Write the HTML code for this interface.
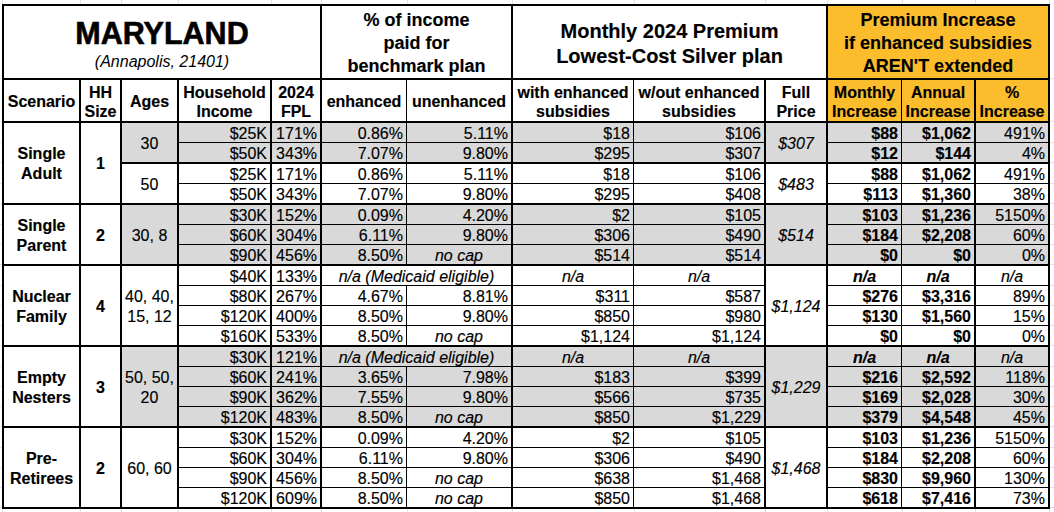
<!DOCTYPE html>
<html><head><meta charset="utf-8"><style>
html,body{margin:0;padding:0;}
body{width:1054px;height:512px;position:relative;overflow:hidden;background:#fff;font-family:"Liberation Sans",sans-serif;font-size:16px;color:#000;-webkit-text-stroke:0.15px #000;}
.l,.g{position:absolute;}

.g{background:#e3e3e3}
</style></head><body>
<div class="g" style="left:2px;top:0;width:1px;height:4px"></div>
<div class="g" style="left:2px;top:509px;width:1px;height:3px"></div>
<div class="g" style="left:80px;top:0;width:1px;height:4px"></div>
<div class="g" style="left:80px;top:509px;width:1px;height:3px"></div>
<div class="g" style="left:121px;top:0;width:1px;height:4px"></div>
<div class="g" style="left:121px;top:509px;width:1px;height:3px"></div>
<div class="g" style="left:178px;top:0;width:1px;height:4px"></div>
<div class="g" style="left:178px;top:509px;width:1px;height:3px"></div>
<div class="g" style="left:271px;top:0;width:1px;height:4px"></div>
<div class="g" style="left:271px;top:509px;width:1px;height:3px"></div>
<div class="g" style="left:321px;top:0;width:1px;height:4px"></div>
<div class="g" style="left:321px;top:509px;width:1px;height:3px"></div>
<div class="g" style="left:407px;top:0;width:1px;height:4px"></div>
<div class="g" style="left:407px;top:509px;width:1px;height:3px"></div>
<div class="g" style="left:512px;top:0;width:1px;height:4px"></div>
<div class="g" style="left:512px;top:509px;width:1px;height:3px"></div>
<div class="g" style="left:634px;top:0;width:1px;height:4px"></div>
<div class="g" style="left:634px;top:509px;width:1px;height:3px"></div>
<div class="g" style="left:765px;top:0;width:1px;height:4px"></div>
<div class="g" style="left:765px;top:509px;width:1px;height:3px"></div>
<div class="g" style="left:827px;top:0;width:1px;height:4px"></div>
<div class="g" style="left:827px;top:509px;width:1px;height:3px"></div>
<div class="g" style="left:902px;top:0;width:1px;height:4px"></div>
<div class="g" style="left:902px;top:509px;width:1px;height:3px"></div>
<div class="g" style="left:975px;top:0;width:1px;height:4px"></div>
<div class="g" style="left:975px;top:509px;width:1px;height:3px"></div>
<div class="g" style="left:1049px;top:0;width:1px;height:4px"></div>
<div class="g" style="left:1049px;top:509px;width:1px;height:3px"></div>
<div class="g" style="left:0;top:78px;width:2px;height:1px"></div>
<div class="g" style="left:1050px;top:78px;width:4px;height:1px"></div>
<div class="g" style="left:0;top:121px;width:2px;height:1px"></div>
<div class="g" style="left:1050px;top:121px;width:4px;height:1px"></div>
<div class="g" style="left:0;top:142px;width:2px;height:1px"></div>
<div class="g" style="left:1050px;top:142px;width:4px;height:1px"></div>
<div class="g" style="left:0;top:162px;width:2px;height:1px"></div>
<div class="g" style="left:1050px;top:162px;width:4px;height:1px"></div>
<div class="g" style="left:0;top:183px;width:2px;height:1px"></div>
<div class="g" style="left:1050px;top:183px;width:4px;height:1px"></div>
<div class="g" style="left:0;top:203px;width:2px;height:1px"></div>
<div class="g" style="left:1050px;top:203px;width:4px;height:1px"></div>
<div class="g" style="left:0;top:224px;width:2px;height:1px"></div>
<div class="g" style="left:1050px;top:224px;width:4px;height:1px"></div>
<div class="g" style="left:0;top:244px;width:2px;height:1px"></div>
<div class="g" style="left:1050px;top:244px;width:4px;height:1px"></div>
<div class="g" style="left:0;top:264px;width:2px;height:1px"></div>
<div class="g" style="left:1050px;top:264px;width:4px;height:1px"></div>
<div class="g" style="left:0;top:285px;width:2px;height:1px"></div>
<div class="g" style="left:1050px;top:285px;width:4px;height:1px"></div>
<div class="g" style="left:0;top:305px;width:2px;height:1px"></div>
<div class="g" style="left:1050px;top:305px;width:4px;height:1px"></div>
<div class="g" style="left:0;top:325px;width:2px;height:1px"></div>
<div class="g" style="left:1050px;top:325px;width:4px;height:1px"></div>
<div class="g" style="left:0;top:345px;width:2px;height:1px"></div>
<div class="g" style="left:1050px;top:345px;width:4px;height:1px"></div>
<div class="g" style="left:0;top:366px;width:2px;height:1px"></div>
<div class="g" style="left:1050px;top:366px;width:4px;height:1px"></div>
<div class="g" style="left:0;top:386px;width:2px;height:1px"></div>
<div class="g" style="left:1050px;top:386px;width:4px;height:1px"></div>
<div class="g" style="left:0;top:406px;width:2px;height:1px"></div>
<div class="g" style="left:1050px;top:406px;width:4px;height:1px"></div>
<div class="g" style="left:0;top:426px;width:2px;height:1px"></div>
<div class="g" style="left:1050px;top:426px;width:4px;height:1px"></div>
<div class="g" style="left:0;top:447px;width:2px;height:1px"></div>
<div class="g" style="left:1050px;top:447px;width:4px;height:1px"></div>
<div class="g" style="left:0;top:467px;width:2px;height:1px"></div>
<div class="g" style="left:1050px;top:467px;width:4px;height:1px"></div>
<div class="g" style="left:0;top:487px;width:2px;height:1px"></div>
<div class="g" style="left:1050px;top:487px;width:4px;height:1px"></div>
<div class="g" style="left:0;top:507px;width:2px;height:1px"></div>
<div class="g" style="left:1050px;top:507px;width:4px;height:1px"></div>
<div style="position:absolute;left:828px;top:6px;width:220px;height:115px;background:#fbbd2b"></div>
<div style="position:absolute;left:122px;top:121px;width:926px;height:41px;background:#d9d9d9"></div>
<div style="position:absolute;left:122px;top:203px;width:926px;height:61px;background:#d9d9d9"></div>
<div style="position:absolute;left:122px;top:345px;width:926px;height:81px;background:#d9d9d9"></div>
<div class="l" style="left:2px;top:4px;width:1048px;height:2px;background:#000"></div>
<div class="l" style="left:2px;top:78px;width:1048px;height:2px;background:#000"></div>
<div class="l" style="left:2px;top:121px;width:1048px;height:2px;background:#000"></div>
<div class="l" style="left:2px;top:507px;width:1048px;height:2px;background:#000"></div>
<div class="l" style="left:2px;top:203px;width:1048px;height:2px;background:#000"></div>
<div class="l" style="left:2px;top:264px;width:1048px;height:2px;background:#000"></div>
<div class="l" style="left:2px;top:345px;width:1048px;height:2px;background:#000"></div>
<div class="l" style="left:2px;top:426px;width:1048px;height:2px;background:#000"></div>
<div class="l" style="left:120px;top:162px;width:930px;height:2px;background:#000"></div>
<div class="l" style="left:177px;top:142px;width:871px;height:1px;background:#000"></div>
<div class="l" style="left:177px;top:183px;width:871px;height:1px;background:#000"></div>
<div class="l" style="left:177px;top:224px;width:871px;height:1px;background:#000"></div>
<div class="l" style="left:177px;top:244px;width:871px;height:1px;background:#000"></div>
<div class="l" style="left:177px;top:285px;width:871px;height:1px;background:#000"></div>
<div class="l" style="left:177px;top:305px;width:871px;height:1px;background:#000"></div>
<div class="l" style="left:177px;top:325px;width:871px;height:1px;background:#000"></div>
<div class="l" style="left:177px;top:366px;width:871px;height:1px;background:#000"></div>
<div class="l" style="left:177px;top:386px;width:871px;height:1px;background:#000"></div>
<div class="l" style="left:177px;top:406px;width:871px;height:1px;background:#000"></div>
<div class="l" style="left:177px;top:447px;width:871px;height:1px;background:#000"></div>
<div class="l" style="left:177px;top:467px;width:871px;height:1px;background:#000"></div>
<div class="l" style="left:177px;top:487px;width:871px;height:1px;background:#000"></div>
<div class="l" style="left:2px;top:4px;width:2px;height:505px;background:#000"></div>
<div class="l" style="left:320px;top:4px;width:2px;height:505px;background:#000"></div>
<div class="l" style="left:511px;top:4px;width:2px;height:505px;background:#000"></div>
<div class="l" style="left:826px;top:4px;width:2px;height:505px;background:#000"></div>
<div class="l" style="left:1048px;top:4px;width:2px;height:505px;background:#000"></div>
<div class="l" style="left:79px;top:78px;width:2px;height:431px;background:#000"></div>
<div class="l" style="left:120px;top:78px;width:2px;height:431px;background:#000"></div>
<div class="l" style="left:177px;top:78px;width:2px;height:431px;background:#000"></div>
<div class="l" style="left:270px;top:78px;width:2px;height:431px;background:#000"></div>
<div class="l" style="left:406px;top:78px;width:1px;height:431px;background:#000"></div>
<div class="l" style="left:633px;top:78px;width:1px;height:431px;background:#000"></div>
<div class="l" style="left:764px;top:78px;width:2px;height:431px;background:#000"></div>
<div class="l" style="left:901px;top:78px;width:1px;height:431px;background:#000"></div>
<div class="l" style="left:974px;top:78px;width:2px;height:431px;background:#000"></div>
<div style="position:absolute;left:766px;top:123px;width:60px;height:39px;background:#d9d9d9"></div>
<div style="position:absolute;left:766px;top:164px;width:60px;height:39px;background:#fff"></div>
<div style="position:absolute;left:766px;top:205px;width:60px;height:59px;background:#d9d9d9"></div>
<div style="position:absolute;left:766px;top:266px;width:60px;height:79px;background:#fff"></div>
<div style="position:absolute;left:766px;top:347px;width:60px;height:79px;background:#d9d9d9"></div>
<div style="position:absolute;left:766px;top:428px;width:60px;height:79px;background:#fff"></div>
<div style="position:absolute;left:406px;top:266px;width:1px;height:19px;background:#fff"></div>
<div style="position:absolute;left:406px;top:347px;width:1px;height:19px;background:#d9d9d9"></div>
<div style="position:absolute;left:4px;top:-3.0px;width:316px;height:72px;display:flex;align-items:center;justify-content:center;text-align:center;font-size:30.5px;font-weight:bold;line-height:32px;white-space:nowrap;"><span style="display:inline-block;transform:scaleY(1.03);-webkit-text-stroke:0.6px #000">MARYLAND</span></div>
<div style="position:absolute;left:4px;top:26.0px;width:316px;height:72px;display:flex;align-items:center;justify-content:center;text-align:center;font-style:italic;line-height:20px;white-space:nowrap;-webkit-text-stroke:0;">(Annapolis, 21401)</div>
<div style="position:absolute;left:322px;top:7.0px;width:189px;height:72px;display:flex;align-items:center;justify-content:center;text-align:center;font-size:18px;font-weight:bold;line-height:23px;white-space:nowrap;">% of income<br>paid for<br>benchmark plan</div>
<div style="position:absolute;left:513px;top:7.5px;width:313px;height:72px;display:flex;align-items:center;justify-content:center;text-align:center;font-size:20px;font-weight:bold;line-height:25px;white-space:nowrap;">Monthly 2024 Premium<br>Lowest-Cost Silver plan</div>
<div style="position:absolute;left:828px;top:7.0px;width:220px;height:72px;display:flex;align-items:center;justify-content:center;text-align:center;font-size:18px;font-weight:bold;line-height:23px;white-space:nowrap;">Premium Increase<br>if enhanced subsidies<br>AREN'T extended</div>
<div style="position:absolute;left:4px;top:81.0px;width:75px;height:41px;display:flex;align-items:center;justify-content:center;text-align:center;font-weight:bold;line-height:19px;white-space:nowrap;">Scenario</div>
<div style="position:absolute;left:81px;top:81.0px;width:39px;height:41px;display:flex;align-items:center;justify-content:center;text-align:center;font-weight:bold;line-height:19px;white-space:nowrap;">HH<br>Size</div>
<div style="position:absolute;left:122px;top:81.0px;width:55px;height:41px;display:flex;align-items:center;justify-content:center;text-align:center;font-weight:bold;line-height:19px;white-space:nowrap;">Ages</div>
<div style="position:absolute;left:179px;top:81.0px;width:91px;height:41px;display:flex;align-items:center;justify-content:center;text-align:center;font-weight:bold;line-height:19px;white-space:nowrap;">Household<br>Income</div>
<div style="position:absolute;left:272px;top:81.0px;width:48px;height:41px;display:flex;align-items:center;justify-content:center;text-align:center;font-weight:bold;line-height:19px;white-space:nowrap;">2024<br>FPL</div>
<div style="position:absolute;left:322px;top:81.0px;width:84px;height:41px;display:flex;align-items:center;justify-content:center;text-align:center;font-weight:bold;line-height:19px;white-space:nowrap;">enhanced</div>
<div style="position:absolute;left:407px;top:81.0px;width:104px;height:41px;display:flex;align-items:center;justify-content:center;text-align:center;font-weight:bold;line-height:19px;white-space:nowrap;">unenhanced</div>
<div style="position:absolute;left:513px;top:81.0px;width:120px;height:41px;display:flex;align-items:center;justify-content:center;text-align:center;font-weight:bold;line-height:19px;white-space:nowrap;">with enhanced<br>subsidies</div>
<div style="position:absolute;left:634px;top:81.0px;width:130px;height:41px;display:flex;align-items:center;justify-content:center;text-align:center;font-weight:bold;line-height:19px;white-space:nowrap;">w/out enhanced<br>subsidies</div>
<div style="position:absolute;left:766px;top:81.0px;width:60px;height:41px;display:flex;align-items:center;justify-content:center;text-align:center;font-weight:bold;line-height:19px;white-space:nowrap;">Full<br>Price</div>
<div style="position:absolute;left:828px;top:81.0px;width:73px;height:41px;display:flex;align-items:center;justify-content:center;text-align:center;font-weight:bold;line-height:19px;white-space:nowrap;">Monthly<br>Increase</div>
<div style="position:absolute;left:902px;top:81.0px;width:72px;height:41px;display:flex;align-items:center;justify-content:center;text-align:center;font-weight:bold;line-height:19px;white-space:nowrap;">Annual<br>Increase</div>
<div style="position:absolute;left:976px;top:81.0px;width:72px;height:41px;display:flex;align-items:center;justify-content:center;text-align:center;font-weight:bold;line-height:19px;white-space:nowrap;">%<br>Increase</div>
<div style="position:absolute;left:179px;top:124.0px;width:88px;height:19px;display:flex;align-items:center;justify-content:flex-end;text-align:right;padding-right:3px;line-height:20px;white-space:nowrap;">$25K</div>
<div style="position:absolute;left:272px;top:124.0px;width:45px;height:19px;display:flex;align-items:center;justify-content:flex-end;text-align:right;padding-right:3px;line-height:20px;white-space:nowrap;">171%</div>
<div style="position:absolute;left:322px;top:124.0px;width:81px;height:19px;display:flex;align-items:center;justify-content:flex-end;text-align:right;padding-right:3px;line-height:20px;white-space:nowrap;">0.86%</div>
<div style="position:absolute;left:407px;top:124.0px;width:101px;height:19px;display:flex;align-items:center;justify-content:flex-end;text-align:right;padding-right:3px;line-height:20px;white-space:nowrap;">5.11%</div>
<div style="position:absolute;left:513px;top:124.0px;width:117px;height:19px;display:flex;align-items:center;justify-content:flex-end;text-align:right;padding-right:3px;line-height:20px;white-space:nowrap;">$18</div>
<div style="position:absolute;left:634px;top:124.0px;width:127px;height:19px;display:flex;align-items:center;justify-content:flex-end;text-align:right;padding-right:3px;line-height:20px;white-space:nowrap;">$106</div>
<div style="position:absolute;left:828px;top:124.0px;width:70px;height:19px;display:flex;align-items:center;justify-content:flex-end;text-align:right;padding-right:3px;font-weight:bold;line-height:20px;white-space:nowrap;">$88</div>
<div style="position:absolute;left:902px;top:124.0px;width:69px;height:19px;display:flex;align-items:center;justify-content:flex-end;text-align:right;padding-right:3px;font-weight:bold;line-height:20px;white-space:nowrap;">$1,062</div>
<div style="position:absolute;left:976px;top:124.0px;width:69px;height:19px;display:flex;align-items:center;justify-content:flex-end;text-align:right;padding-right:3px;line-height:20px;white-space:nowrap;">491%</div>
<div style="position:absolute;left:179px;top:144.0px;width:88px;height:19px;display:flex;align-items:center;justify-content:flex-end;text-align:right;padding-right:3px;line-height:20px;white-space:nowrap;">$50K</div>
<div style="position:absolute;left:272px;top:144.0px;width:45px;height:19px;display:flex;align-items:center;justify-content:flex-end;text-align:right;padding-right:3px;line-height:20px;white-space:nowrap;">343%</div>
<div style="position:absolute;left:322px;top:144.0px;width:81px;height:19px;display:flex;align-items:center;justify-content:flex-end;text-align:right;padding-right:3px;line-height:20px;white-space:nowrap;">7.07%</div>
<div style="position:absolute;left:407px;top:144.0px;width:101px;height:19px;display:flex;align-items:center;justify-content:flex-end;text-align:right;padding-right:3px;line-height:20px;white-space:nowrap;">9.80%</div>
<div style="position:absolute;left:513px;top:144.0px;width:117px;height:19px;display:flex;align-items:center;justify-content:flex-end;text-align:right;padding-right:3px;line-height:20px;white-space:nowrap;">$295</div>
<div style="position:absolute;left:634px;top:144.0px;width:127px;height:19px;display:flex;align-items:center;justify-content:flex-end;text-align:right;padding-right:3px;line-height:20px;white-space:nowrap;">$307</div>
<div style="position:absolute;left:828px;top:144.0px;width:70px;height:19px;display:flex;align-items:center;justify-content:flex-end;text-align:right;padding-right:3px;font-weight:bold;line-height:20px;white-space:nowrap;">$12</div>
<div style="position:absolute;left:902px;top:144.0px;width:69px;height:19px;display:flex;align-items:center;justify-content:flex-end;text-align:right;padding-right:3px;font-weight:bold;line-height:20px;white-space:nowrap;">$144</div>
<div style="position:absolute;left:976px;top:144.0px;width:69px;height:19px;display:flex;align-items:center;justify-content:flex-end;text-align:right;padding-right:3px;line-height:20px;white-space:nowrap;">4%</div>
<div style="position:absolute;left:179px;top:165.0px;width:88px;height:19px;display:flex;align-items:center;justify-content:flex-end;text-align:right;padding-right:3px;line-height:20px;white-space:nowrap;">$25K</div>
<div style="position:absolute;left:272px;top:165.0px;width:45px;height:19px;display:flex;align-items:center;justify-content:flex-end;text-align:right;padding-right:3px;line-height:20px;white-space:nowrap;">171%</div>
<div style="position:absolute;left:322px;top:165.0px;width:81px;height:19px;display:flex;align-items:center;justify-content:flex-end;text-align:right;padding-right:3px;line-height:20px;white-space:nowrap;">0.86%</div>
<div style="position:absolute;left:407px;top:165.0px;width:101px;height:19px;display:flex;align-items:center;justify-content:flex-end;text-align:right;padding-right:3px;line-height:20px;white-space:nowrap;">5.11%</div>
<div style="position:absolute;left:513px;top:165.0px;width:117px;height:19px;display:flex;align-items:center;justify-content:flex-end;text-align:right;padding-right:3px;line-height:20px;white-space:nowrap;">$18</div>
<div style="position:absolute;left:634px;top:165.0px;width:127px;height:19px;display:flex;align-items:center;justify-content:flex-end;text-align:right;padding-right:3px;line-height:20px;white-space:nowrap;">$106</div>
<div style="position:absolute;left:828px;top:165.0px;width:70px;height:19px;display:flex;align-items:center;justify-content:flex-end;text-align:right;padding-right:3px;font-weight:bold;line-height:20px;white-space:nowrap;">$88</div>
<div style="position:absolute;left:902px;top:165.0px;width:69px;height:19px;display:flex;align-items:center;justify-content:flex-end;text-align:right;padding-right:3px;font-weight:bold;line-height:20px;white-space:nowrap;">$1,062</div>
<div style="position:absolute;left:976px;top:165.0px;width:69px;height:19px;display:flex;align-items:center;justify-content:flex-end;text-align:right;padding-right:3px;line-height:20px;white-space:nowrap;">491%</div>
<div style="position:absolute;left:179px;top:185.0px;width:88px;height:19px;display:flex;align-items:center;justify-content:flex-end;text-align:right;padding-right:3px;line-height:20px;white-space:nowrap;">$50K</div>
<div style="position:absolute;left:272px;top:185.0px;width:45px;height:19px;display:flex;align-items:center;justify-content:flex-end;text-align:right;padding-right:3px;line-height:20px;white-space:nowrap;">343%</div>
<div style="position:absolute;left:322px;top:185.0px;width:81px;height:19px;display:flex;align-items:center;justify-content:flex-end;text-align:right;padding-right:3px;line-height:20px;white-space:nowrap;">7.07%</div>
<div style="position:absolute;left:407px;top:185.0px;width:101px;height:19px;display:flex;align-items:center;justify-content:flex-end;text-align:right;padding-right:3px;line-height:20px;white-space:nowrap;">9.80%</div>
<div style="position:absolute;left:513px;top:185.0px;width:117px;height:19px;display:flex;align-items:center;justify-content:flex-end;text-align:right;padding-right:3px;line-height:20px;white-space:nowrap;">$295</div>
<div style="position:absolute;left:634px;top:185.0px;width:127px;height:19px;display:flex;align-items:center;justify-content:flex-end;text-align:right;padding-right:3px;line-height:20px;white-space:nowrap;">$408</div>
<div style="position:absolute;left:828px;top:185.0px;width:70px;height:19px;display:flex;align-items:center;justify-content:flex-end;text-align:right;padding-right:3px;font-weight:bold;line-height:20px;white-space:nowrap;">$113</div>
<div style="position:absolute;left:902px;top:185.0px;width:69px;height:19px;display:flex;align-items:center;justify-content:flex-end;text-align:right;padding-right:3px;font-weight:bold;line-height:20px;white-space:nowrap;">$1,360</div>
<div style="position:absolute;left:976px;top:185.0px;width:69px;height:19px;display:flex;align-items:center;justify-content:flex-end;text-align:right;padding-right:3px;line-height:20px;white-space:nowrap;">38%</div>
<div style="position:absolute;left:179px;top:206.0px;width:88px;height:19px;display:flex;align-items:center;justify-content:flex-end;text-align:right;padding-right:3px;line-height:20px;white-space:nowrap;">$30K</div>
<div style="position:absolute;left:272px;top:206.0px;width:45px;height:19px;display:flex;align-items:center;justify-content:flex-end;text-align:right;padding-right:3px;line-height:20px;white-space:nowrap;">152%</div>
<div style="position:absolute;left:322px;top:206.0px;width:81px;height:19px;display:flex;align-items:center;justify-content:flex-end;text-align:right;padding-right:3px;line-height:20px;white-space:nowrap;">0.09%</div>
<div style="position:absolute;left:407px;top:206.0px;width:101px;height:19px;display:flex;align-items:center;justify-content:flex-end;text-align:right;padding-right:3px;line-height:20px;white-space:nowrap;">4.20%</div>
<div style="position:absolute;left:513px;top:206.0px;width:117px;height:19px;display:flex;align-items:center;justify-content:flex-end;text-align:right;padding-right:3px;line-height:20px;white-space:nowrap;">$2</div>
<div style="position:absolute;left:634px;top:206.0px;width:127px;height:19px;display:flex;align-items:center;justify-content:flex-end;text-align:right;padding-right:3px;line-height:20px;white-space:nowrap;">$105</div>
<div style="position:absolute;left:828px;top:206.0px;width:70px;height:19px;display:flex;align-items:center;justify-content:flex-end;text-align:right;padding-right:3px;font-weight:bold;line-height:20px;white-space:nowrap;">$103</div>
<div style="position:absolute;left:902px;top:206.0px;width:69px;height:19px;display:flex;align-items:center;justify-content:flex-end;text-align:right;padding-right:3px;font-weight:bold;line-height:20px;white-space:nowrap;">$1,236</div>
<div style="position:absolute;left:976px;top:206.0px;width:69px;height:19px;display:flex;align-items:center;justify-content:flex-end;text-align:right;padding-right:3px;line-height:20px;white-space:nowrap;">5150%</div>
<div style="position:absolute;left:179px;top:226.0px;width:88px;height:19px;display:flex;align-items:center;justify-content:flex-end;text-align:right;padding-right:3px;line-height:20px;white-space:nowrap;">$60K</div>
<div style="position:absolute;left:272px;top:226.0px;width:45px;height:19px;display:flex;align-items:center;justify-content:flex-end;text-align:right;padding-right:3px;line-height:20px;white-space:nowrap;">304%</div>
<div style="position:absolute;left:322px;top:226.0px;width:81px;height:19px;display:flex;align-items:center;justify-content:flex-end;text-align:right;padding-right:3px;line-height:20px;white-space:nowrap;">6.11%</div>
<div style="position:absolute;left:407px;top:226.0px;width:101px;height:19px;display:flex;align-items:center;justify-content:flex-end;text-align:right;padding-right:3px;line-height:20px;white-space:nowrap;">9.80%</div>
<div style="position:absolute;left:513px;top:226.0px;width:117px;height:19px;display:flex;align-items:center;justify-content:flex-end;text-align:right;padding-right:3px;line-height:20px;white-space:nowrap;">$306</div>
<div style="position:absolute;left:634px;top:226.0px;width:127px;height:19px;display:flex;align-items:center;justify-content:flex-end;text-align:right;padding-right:3px;line-height:20px;white-space:nowrap;">$490</div>
<div style="position:absolute;left:828px;top:226.0px;width:70px;height:19px;display:flex;align-items:center;justify-content:flex-end;text-align:right;padding-right:3px;font-weight:bold;line-height:20px;white-space:nowrap;">$184</div>
<div style="position:absolute;left:902px;top:226.0px;width:69px;height:19px;display:flex;align-items:center;justify-content:flex-end;text-align:right;padding-right:3px;font-weight:bold;line-height:20px;white-space:nowrap;">$2,208</div>
<div style="position:absolute;left:976px;top:226.0px;width:69px;height:19px;display:flex;align-items:center;justify-content:flex-end;text-align:right;padding-right:3px;line-height:20px;white-space:nowrap;">60%</div>
<div style="position:absolute;left:179px;top:246.0px;width:88px;height:19px;display:flex;align-items:center;justify-content:flex-end;text-align:right;padding-right:3px;line-height:20px;white-space:nowrap;">$90K</div>
<div style="position:absolute;left:272px;top:246.0px;width:45px;height:19px;display:flex;align-items:center;justify-content:flex-end;text-align:right;padding-right:3px;line-height:20px;white-space:nowrap;">456%</div>
<div style="position:absolute;left:322px;top:246.0px;width:81px;height:19px;display:flex;align-items:center;justify-content:flex-end;text-align:right;padding-right:3px;line-height:20px;white-space:nowrap;">8.50%</div>
<div style="position:absolute;left:407px;top:246.0px;width:104px;height:19px;display:flex;align-items:center;justify-content:center;text-align:center;font-style:italic;line-height:20px;white-space:nowrap;">no cap</div>
<div style="position:absolute;left:513px;top:246.0px;width:117px;height:19px;display:flex;align-items:center;justify-content:flex-end;text-align:right;padding-right:3px;line-height:20px;white-space:nowrap;">$514</div>
<div style="position:absolute;left:634px;top:246.0px;width:127px;height:19px;display:flex;align-items:center;justify-content:flex-end;text-align:right;padding-right:3px;line-height:20px;white-space:nowrap;">$514</div>
<div style="position:absolute;left:828px;top:246.0px;width:70px;height:19px;display:flex;align-items:center;justify-content:flex-end;text-align:right;padding-right:3px;font-weight:bold;line-height:20px;white-space:nowrap;">$0</div>
<div style="position:absolute;left:902px;top:246.0px;width:69px;height:19px;display:flex;align-items:center;justify-content:flex-end;text-align:right;padding-right:3px;font-weight:bold;line-height:20px;white-space:nowrap;">$0</div>
<div style="position:absolute;left:976px;top:246.0px;width:69px;height:19px;display:flex;align-items:center;justify-content:flex-end;text-align:right;padding-right:3px;line-height:20px;white-space:nowrap;">0%</div>
<div style="position:absolute;left:179px;top:267.0px;width:88px;height:19px;display:flex;align-items:center;justify-content:flex-end;text-align:right;padding-right:3px;line-height:20px;white-space:nowrap;">$40K</div>
<div style="position:absolute;left:272px;top:267.0px;width:45px;height:19px;display:flex;align-items:center;justify-content:flex-end;text-align:right;padding-right:3px;line-height:20px;white-space:nowrap;">133%</div>
<div style="position:absolute;left:322px;top:267.0px;width:189px;height:19px;display:flex;align-items:center;justify-content:center;text-align:center;font-style:italic;line-height:20px;white-space:nowrap;">n/a (Medicaid eligible)</div>
<div style="position:absolute;left:513px;top:267.0px;width:120px;height:19px;display:flex;align-items:center;justify-content:center;text-align:center;font-style:italic;line-height:20px;white-space:nowrap;">n/a</div>
<div style="position:absolute;left:634px;top:267.0px;width:130px;height:19px;display:flex;align-items:center;justify-content:center;text-align:center;font-style:italic;line-height:20px;white-space:nowrap;">n/a</div>
<div style="position:absolute;left:828px;top:267.0px;width:73px;height:19px;display:flex;align-items:center;justify-content:center;text-align:center;font-weight:bold;font-style:italic;line-height:20px;white-space:nowrap;">n/a</div>
<div style="position:absolute;left:902px;top:267.0px;width:72px;height:19px;display:flex;align-items:center;justify-content:center;text-align:center;font-weight:bold;font-style:italic;line-height:20px;white-space:nowrap;">n/a</div>
<div style="position:absolute;left:976px;top:267.0px;width:72px;height:19px;display:flex;align-items:center;justify-content:center;text-align:center;font-style:italic;line-height:20px;white-space:nowrap;">n/a</div>
<div style="position:absolute;left:179px;top:287.0px;width:88px;height:19px;display:flex;align-items:center;justify-content:flex-end;text-align:right;padding-right:3px;line-height:20px;white-space:nowrap;">$80K</div>
<div style="position:absolute;left:272px;top:287.0px;width:45px;height:19px;display:flex;align-items:center;justify-content:flex-end;text-align:right;padding-right:3px;line-height:20px;white-space:nowrap;">267%</div>
<div style="position:absolute;left:322px;top:287.0px;width:81px;height:19px;display:flex;align-items:center;justify-content:flex-end;text-align:right;padding-right:3px;line-height:20px;white-space:nowrap;">4.67%</div>
<div style="position:absolute;left:407px;top:287.0px;width:101px;height:19px;display:flex;align-items:center;justify-content:flex-end;text-align:right;padding-right:3px;line-height:20px;white-space:nowrap;">8.81%</div>
<div style="position:absolute;left:513px;top:287.0px;width:117px;height:19px;display:flex;align-items:center;justify-content:flex-end;text-align:right;padding-right:3px;line-height:20px;white-space:nowrap;">$311</div>
<div style="position:absolute;left:634px;top:287.0px;width:127px;height:19px;display:flex;align-items:center;justify-content:flex-end;text-align:right;padding-right:3px;line-height:20px;white-space:nowrap;">$587</div>
<div style="position:absolute;left:828px;top:287.0px;width:70px;height:19px;display:flex;align-items:center;justify-content:flex-end;text-align:right;padding-right:3px;font-weight:bold;line-height:20px;white-space:nowrap;">$276</div>
<div style="position:absolute;left:902px;top:287.0px;width:69px;height:19px;display:flex;align-items:center;justify-content:flex-end;text-align:right;padding-right:3px;font-weight:bold;line-height:20px;white-space:nowrap;">$3,316</div>
<div style="position:absolute;left:976px;top:287.0px;width:69px;height:19px;display:flex;align-items:center;justify-content:flex-end;text-align:right;padding-right:3px;line-height:20px;white-space:nowrap;">89%</div>
<div style="position:absolute;left:179px;top:307.0px;width:88px;height:19px;display:flex;align-items:center;justify-content:flex-end;text-align:right;padding-right:3px;line-height:20px;white-space:nowrap;">$120K</div>
<div style="position:absolute;left:272px;top:307.0px;width:45px;height:19px;display:flex;align-items:center;justify-content:flex-end;text-align:right;padding-right:3px;line-height:20px;white-space:nowrap;">400%</div>
<div style="position:absolute;left:322px;top:307.0px;width:81px;height:19px;display:flex;align-items:center;justify-content:flex-end;text-align:right;padding-right:3px;line-height:20px;white-space:nowrap;">8.50%</div>
<div style="position:absolute;left:407px;top:307.0px;width:101px;height:19px;display:flex;align-items:center;justify-content:flex-end;text-align:right;padding-right:3px;line-height:20px;white-space:nowrap;">9.80%</div>
<div style="position:absolute;left:513px;top:307.0px;width:117px;height:19px;display:flex;align-items:center;justify-content:flex-end;text-align:right;padding-right:3px;line-height:20px;white-space:nowrap;">$850</div>
<div style="position:absolute;left:634px;top:307.0px;width:127px;height:19px;display:flex;align-items:center;justify-content:flex-end;text-align:right;padding-right:3px;line-height:20px;white-space:nowrap;">$980</div>
<div style="position:absolute;left:828px;top:307.0px;width:70px;height:19px;display:flex;align-items:center;justify-content:flex-end;text-align:right;padding-right:3px;font-weight:bold;line-height:20px;white-space:nowrap;">$130</div>
<div style="position:absolute;left:902px;top:307.0px;width:69px;height:19px;display:flex;align-items:center;justify-content:flex-end;text-align:right;padding-right:3px;font-weight:bold;line-height:20px;white-space:nowrap;">$1,560</div>
<div style="position:absolute;left:976px;top:307.0px;width:69px;height:19px;display:flex;align-items:center;justify-content:flex-end;text-align:right;padding-right:3px;line-height:20px;white-space:nowrap;">15%</div>
<div style="position:absolute;left:179px;top:327.0px;width:88px;height:19px;display:flex;align-items:center;justify-content:flex-end;text-align:right;padding-right:3px;line-height:20px;white-space:nowrap;">$160K</div>
<div style="position:absolute;left:272px;top:327.0px;width:45px;height:19px;display:flex;align-items:center;justify-content:flex-end;text-align:right;padding-right:3px;line-height:20px;white-space:nowrap;">533%</div>
<div style="position:absolute;left:322px;top:327.0px;width:81px;height:19px;display:flex;align-items:center;justify-content:flex-end;text-align:right;padding-right:3px;line-height:20px;white-space:nowrap;">8.50%</div>
<div style="position:absolute;left:407px;top:327.0px;width:104px;height:19px;display:flex;align-items:center;justify-content:center;text-align:center;font-style:italic;line-height:20px;white-space:nowrap;">no cap</div>
<div style="position:absolute;left:513px;top:327.0px;width:117px;height:19px;display:flex;align-items:center;justify-content:flex-end;text-align:right;padding-right:3px;line-height:20px;white-space:nowrap;">$1,124</div>
<div style="position:absolute;left:634px;top:327.0px;width:127px;height:19px;display:flex;align-items:center;justify-content:flex-end;text-align:right;padding-right:3px;line-height:20px;white-space:nowrap;">$1,124</div>
<div style="position:absolute;left:828px;top:327.0px;width:70px;height:19px;display:flex;align-items:center;justify-content:flex-end;text-align:right;padding-right:3px;font-weight:bold;line-height:20px;white-space:nowrap;">$0</div>
<div style="position:absolute;left:902px;top:327.0px;width:69px;height:19px;display:flex;align-items:center;justify-content:flex-end;text-align:right;padding-right:3px;font-weight:bold;line-height:20px;white-space:nowrap;">$0</div>
<div style="position:absolute;left:976px;top:327.0px;width:69px;height:19px;display:flex;align-items:center;justify-content:flex-end;text-align:right;padding-right:3px;line-height:20px;white-space:nowrap;">0%</div>
<div style="position:absolute;left:179px;top:348.0px;width:88px;height:19px;display:flex;align-items:center;justify-content:flex-end;text-align:right;padding-right:3px;line-height:20px;white-space:nowrap;">$30K</div>
<div style="position:absolute;left:272px;top:348.0px;width:45px;height:19px;display:flex;align-items:center;justify-content:flex-end;text-align:right;padding-right:3px;line-height:20px;white-space:nowrap;">121%</div>
<div style="position:absolute;left:322px;top:348.0px;width:189px;height:19px;display:flex;align-items:center;justify-content:center;text-align:center;font-style:italic;line-height:20px;white-space:nowrap;">n/a (Medicaid eligible)</div>
<div style="position:absolute;left:513px;top:348.0px;width:120px;height:19px;display:flex;align-items:center;justify-content:center;text-align:center;font-style:italic;line-height:20px;white-space:nowrap;">n/a</div>
<div style="position:absolute;left:634px;top:348.0px;width:130px;height:19px;display:flex;align-items:center;justify-content:center;text-align:center;font-style:italic;line-height:20px;white-space:nowrap;">n/a</div>
<div style="position:absolute;left:828px;top:348.0px;width:73px;height:19px;display:flex;align-items:center;justify-content:center;text-align:center;font-weight:bold;font-style:italic;line-height:20px;white-space:nowrap;">n/a</div>
<div style="position:absolute;left:902px;top:348.0px;width:72px;height:19px;display:flex;align-items:center;justify-content:center;text-align:center;font-weight:bold;font-style:italic;line-height:20px;white-space:nowrap;">n/a</div>
<div style="position:absolute;left:976px;top:348.0px;width:72px;height:19px;display:flex;align-items:center;justify-content:center;text-align:center;font-style:italic;line-height:20px;white-space:nowrap;">n/a</div>
<div style="position:absolute;left:179px;top:368.0px;width:88px;height:19px;display:flex;align-items:center;justify-content:flex-end;text-align:right;padding-right:3px;line-height:20px;white-space:nowrap;">$60K</div>
<div style="position:absolute;left:272px;top:368.0px;width:45px;height:19px;display:flex;align-items:center;justify-content:flex-end;text-align:right;padding-right:3px;line-height:20px;white-space:nowrap;">241%</div>
<div style="position:absolute;left:322px;top:368.0px;width:81px;height:19px;display:flex;align-items:center;justify-content:flex-end;text-align:right;padding-right:3px;line-height:20px;white-space:nowrap;">3.65%</div>
<div style="position:absolute;left:407px;top:368.0px;width:101px;height:19px;display:flex;align-items:center;justify-content:flex-end;text-align:right;padding-right:3px;line-height:20px;white-space:nowrap;">7.98%</div>
<div style="position:absolute;left:513px;top:368.0px;width:117px;height:19px;display:flex;align-items:center;justify-content:flex-end;text-align:right;padding-right:3px;line-height:20px;white-space:nowrap;">$183</div>
<div style="position:absolute;left:634px;top:368.0px;width:127px;height:19px;display:flex;align-items:center;justify-content:flex-end;text-align:right;padding-right:3px;line-height:20px;white-space:nowrap;">$399</div>
<div style="position:absolute;left:828px;top:368.0px;width:70px;height:19px;display:flex;align-items:center;justify-content:flex-end;text-align:right;padding-right:3px;font-weight:bold;line-height:20px;white-space:nowrap;">$216</div>
<div style="position:absolute;left:902px;top:368.0px;width:69px;height:19px;display:flex;align-items:center;justify-content:flex-end;text-align:right;padding-right:3px;font-weight:bold;line-height:20px;white-space:nowrap;">$2,592</div>
<div style="position:absolute;left:976px;top:368.0px;width:69px;height:19px;display:flex;align-items:center;justify-content:flex-end;text-align:right;padding-right:3px;line-height:20px;white-space:nowrap;">118%</div>
<div style="position:absolute;left:179px;top:388.0px;width:88px;height:19px;display:flex;align-items:center;justify-content:flex-end;text-align:right;padding-right:3px;line-height:20px;white-space:nowrap;">$90K</div>
<div style="position:absolute;left:272px;top:388.0px;width:45px;height:19px;display:flex;align-items:center;justify-content:flex-end;text-align:right;padding-right:3px;line-height:20px;white-space:nowrap;">362%</div>
<div style="position:absolute;left:322px;top:388.0px;width:81px;height:19px;display:flex;align-items:center;justify-content:flex-end;text-align:right;padding-right:3px;line-height:20px;white-space:nowrap;">7.55%</div>
<div style="position:absolute;left:407px;top:388.0px;width:101px;height:19px;display:flex;align-items:center;justify-content:flex-end;text-align:right;padding-right:3px;line-height:20px;white-space:nowrap;">9.80%</div>
<div style="position:absolute;left:513px;top:388.0px;width:117px;height:19px;display:flex;align-items:center;justify-content:flex-end;text-align:right;padding-right:3px;line-height:20px;white-space:nowrap;">$566</div>
<div style="position:absolute;left:634px;top:388.0px;width:127px;height:19px;display:flex;align-items:center;justify-content:flex-end;text-align:right;padding-right:3px;line-height:20px;white-space:nowrap;">$735</div>
<div style="position:absolute;left:828px;top:388.0px;width:70px;height:19px;display:flex;align-items:center;justify-content:flex-end;text-align:right;padding-right:3px;font-weight:bold;line-height:20px;white-space:nowrap;">$169</div>
<div style="position:absolute;left:902px;top:388.0px;width:69px;height:19px;display:flex;align-items:center;justify-content:flex-end;text-align:right;padding-right:3px;font-weight:bold;line-height:20px;white-space:nowrap;">$2,028</div>
<div style="position:absolute;left:976px;top:388.0px;width:69px;height:19px;display:flex;align-items:center;justify-content:flex-end;text-align:right;padding-right:3px;line-height:20px;white-space:nowrap;">30%</div>
<div style="position:absolute;left:179px;top:408.0px;width:88px;height:19px;display:flex;align-items:center;justify-content:flex-end;text-align:right;padding-right:3px;line-height:20px;white-space:nowrap;">$120K</div>
<div style="position:absolute;left:272px;top:408.0px;width:45px;height:19px;display:flex;align-items:center;justify-content:flex-end;text-align:right;padding-right:3px;line-height:20px;white-space:nowrap;">483%</div>
<div style="position:absolute;left:322px;top:408.0px;width:81px;height:19px;display:flex;align-items:center;justify-content:flex-end;text-align:right;padding-right:3px;line-height:20px;white-space:nowrap;">8.50%</div>
<div style="position:absolute;left:407px;top:408.0px;width:104px;height:19px;display:flex;align-items:center;justify-content:center;text-align:center;font-style:italic;line-height:20px;white-space:nowrap;">no cap</div>
<div style="position:absolute;left:513px;top:408.0px;width:117px;height:19px;display:flex;align-items:center;justify-content:flex-end;text-align:right;padding-right:3px;line-height:20px;white-space:nowrap;">$850</div>
<div style="position:absolute;left:634px;top:408.0px;width:127px;height:19px;display:flex;align-items:center;justify-content:flex-end;text-align:right;padding-right:3px;line-height:20px;white-space:nowrap;">$1,229</div>
<div style="position:absolute;left:828px;top:408.0px;width:70px;height:19px;display:flex;align-items:center;justify-content:flex-end;text-align:right;padding-right:3px;font-weight:bold;line-height:20px;white-space:nowrap;">$379</div>
<div style="position:absolute;left:902px;top:408.0px;width:69px;height:19px;display:flex;align-items:center;justify-content:flex-end;text-align:right;padding-right:3px;font-weight:bold;line-height:20px;white-space:nowrap;">$4,548</div>
<div style="position:absolute;left:976px;top:408.0px;width:69px;height:19px;display:flex;align-items:center;justify-content:flex-end;text-align:right;padding-right:3px;line-height:20px;white-space:nowrap;">45%</div>
<div style="position:absolute;left:179px;top:429.0px;width:88px;height:19px;display:flex;align-items:center;justify-content:flex-end;text-align:right;padding-right:3px;line-height:20px;white-space:nowrap;">$30K</div>
<div style="position:absolute;left:272px;top:429.0px;width:45px;height:19px;display:flex;align-items:center;justify-content:flex-end;text-align:right;padding-right:3px;line-height:20px;white-space:nowrap;">152%</div>
<div style="position:absolute;left:322px;top:429.0px;width:81px;height:19px;display:flex;align-items:center;justify-content:flex-end;text-align:right;padding-right:3px;line-height:20px;white-space:nowrap;">0.09%</div>
<div style="position:absolute;left:407px;top:429.0px;width:101px;height:19px;display:flex;align-items:center;justify-content:flex-end;text-align:right;padding-right:3px;line-height:20px;white-space:nowrap;">4.20%</div>
<div style="position:absolute;left:513px;top:429.0px;width:117px;height:19px;display:flex;align-items:center;justify-content:flex-end;text-align:right;padding-right:3px;line-height:20px;white-space:nowrap;">$2</div>
<div style="position:absolute;left:634px;top:429.0px;width:127px;height:19px;display:flex;align-items:center;justify-content:flex-end;text-align:right;padding-right:3px;line-height:20px;white-space:nowrap;">$105</div>
<div style="position:absolute;left:828px;top:429.0px;width:70px;height:19px;display:flex;align-items:center;justify-content:flex-end;text-align:right;padding-right:3px;font-weight:bold;line-height:20px;white-space:nowrap;">$103</div>
<div style="position:absolute;left:902px;top:429.0px;width:69px;height:19px;display:flex;align-items:center;justify-content:flex-end;text-align:right;padding-right:3px;font-weight:bold;line-height:20px;white-space:nowrap;">$1,236</div>
<div style="position:absolute;left:976px;top:429.0px;width:69px;height:19px;display:flex;align-items:center;justify-content:flex-end;text-align:right;padding-right:3px;line-height:20px;white-space:nowrap;">5150%</div>
<div style="position:absolute;left:179px;top:449.0px;width:88px;height:19px;display:flex;align-items:center;justify-content:flex-end;text-align:right;padding-right:3px;line-height:20px;white-space:nowrap;">$60K</div>
<div style="position:absolute;left:272px;top:449.0px;width:45px;height:19px;display:flex;align-items:center;justify-content:flex-end;text-align:right;padding-right:3px;line-height:20px;white-space:nowrap;">304%</div>
<div style="position:absolute;left:322px;top:449.0px;width:81px;height:19px;display:flex;align-items:center;justify-content:flex-end;text-align:right;padding-right:3px;line-height:20px;white-space:nowrap;">6.11%</div>
<div style="position:absolute;left:407px;top:449.0px;width:101px;height:19px;display:flex;align-items:center;justify-content:flex-end;text-align:right;padding-right:3px;line-height:20px;white-space:nowrap;">9.80%</div>
<div style="position:absolute;left:513px;top:449.0px;width:117px;height:19px;display:flex;align-items:center;justify-content:flex-end;text-align:right;padding-right:3px;line-height:20px;white-space:nowrap;">$306</div>
<div style="position:absolute;left:634px;top:449.0px;width:127px;height:19px;display:flex;align-items:center;justify-content:flex-end;text-align:right;padding-right:3px;line-height:20px;white-space:nowrap;">$490</div>
<div style="position:absolute;left:828px;top:449.0px;width:70px;height:19px;display:flex;align-items:center;justify-content:flex-end;text-align:right;padding-right:3px;font-weight:bold;line-height:20px;white-space:nowrap;">$184</div>
<div style="position:absolute;left:902px;top:449.0px;width:69px;height:19px;display:flex;align-items:center;justify-content:flex-end;text-align:right;padding-right:3px;font-weight:bold;line-height:20px;white-space:nowrap;">$2,208</div>
<div style="position:absolute;left:976px;top:449.0px;width:69px;height:19px;display:flex;align-items:center;justify-content:flex-end;text-align:right;padding-right:3px;line-height:20px;white-space:nowrap;">60%</div>
<div style="position:absolute;left:179px;top:469.0px;width:88px;height:19px;display:flex;align-items:center;justify-content:flex-end;text-align:right;padding-right:3px;line-height:20px;white-space:nowrap;">$90K</div>
<div style="position:absolute;left:272px;top:469.0px;width:45px;height:19px;display:flex;align-items:center;justify-content:flex-end;text-align:right;padding-right:3px;line-height:20px;white-space:nowrap;">456%</div>
<div style="position:absolute;left:322px;top:469.0px;width:81px;height:19px;display:flex;align-items:center;justify-content:flex-end;text-align:right;padding-right:3px;line-height:20px;white-space:nowrap;">8.50%</div>
<div style="position:absolute;left:407px;top:469.0px;width:104px;height:19px;display:flex;align-items:center;justify-content:center;text-align:center;font-style:italic;line-height:20px;white-space:nowrap;">no cap</div>
<div style="position:absolute;left:513px;top:469.0px;width:117px;height:19px;display:flex;align-items:center;justify-content:flex-end;text-align:right;padding-right:3px;line-height:20px;white-space:nowrap;">$638</div>
<div style="position:absolute;left:634px;top:469.0px;width:127px;height:19px;display:flex;align-items:center;justify-content:flex-end;text-align:right;padding-right:3px;line-height:20px;white-space:nowrap;">$1,468</div>
<div style="position:absolute;left:828px;top:469.0px;width:70px;height:19px;display:flex;align-items:center;justify-content:flex-end;text-align:right;padding-right:3px;font-weight:bold;line-height:20px;white-space:nowrap;">$830</div>
<div style="position:absolute;left:902px;top:469.0px;width:69px;height:19px;display:flex;align-items:center;justify-content:flex-end;text-align:right;padding-right:3px;font-weight:bold;line-height:20px;white-space:nowrap;">$9,960</div>
<div style="position:absolute;left:976px;top:469.0px;width:69px;height:19px;display:flex;align-items:center;justify-content:flex-end;text-align:right;padding-right:3px;line-height:20px;white-space:nowrap;">130%</div>
<div style="position:absolute;left:179px;top:489.0px;width:88px;height:19px;display:flex;align-items:center;justify-content:flex-end;text-align:right;padding-right:3px;line-height:20px;white-space:nowrap;">$120K</div>
<div style="position:absolute;left:272px;top:489.0px;width:45px;height:19px;display:flex;align-items:center;justify-content:flex-end;text-align:right;padding-right:3px;line-height:20px;white-space:nowrap;">609%</div>
<div style="position:absolute;left:322px;top:489.0px;width:81px;height:19px;display:flex;align-items:center;justify-content:flex-end;text-align:right;padding-right:3px;line-height:20px;white-space:nowrap;">8.50%</div>
<div style="position:absolute;left:407px;top:489.0px;width:104px;height:19px;display:flex;align-items:center;justify-content:center;text-align:center;font-style:italic;line-height:20px;white-space:nowrap;">no cap</div>
<div style="position:absolute;left:513px;top:489.0px;width:117px;height:19px;display:flex;align-items:center;justify-content:flex-end;text-align:right;padding-right:3px;line-height:20px;white-space:nowrap;">$850</div>
<div style="position:absolute;left:634px;top:489.0px;width:127px;height:19px;display:flex;align-items:center;justify-content:flex-end;text-align:right;padding-right:3px;line-height:20px;white-space:nowrap;">$1,468</div>
<div style="position:absolute;left:828px;top:489.0px;width:70px;height:19px;display:flex;align-items:center;justify-content:flex-end;text-align:right;padding-right:3px;font-weight:bold;line-height:20px;white-space:nowrap;">$618</div>
<div style="position:absolute;left:902px;top:489.0px;width:69px;height:19px;display:flex;align-items:center;justify-content:flex-end;text-align:right;padding-right:3px;font-weight:bold;line-height:20px;white-space:nowrap;">$7,416</div>
<div style="position:absolute;left:976px;top:489.0px;width:69px;height:19px;display:flex;align-items:center;justify-content:flex-end;text-align:right;padding-right:3px;line-height:20px;white-space:nowrap;">73%</div>
<div style="position:absolute;left:4px;top:124.0px;width:75px;height:80px;display:flex;align-items:center;justify-content:center;text-align:center;font-weight:bold;line-height:20px;white-space:nowrap;">Single<br>Adult</div>
<div style="position:absolute;left:81px;top:124.0px;width:39px;height:80px;display:flex;align-items:center;justify-content:center;text-align:center;font-weight:bold;line-height:20px;white-space:nowrap;">1</div>
<div style="position:absolute;left:4px;top:206.0px;width:75px;height:59px;display:flex;align-items:center;justify-content:center;text-align:center;font-weight:bold;line-height:20px;white-space:nowrap;">Single<br>Parent</div>
<div style="position:absolute;left:81px;top:206.0px;width:39px;height:59px;display:flex;align-items:center;justify-content:center;text-align:center;font-weight:bold;line-height:20px;white-space:nowrap;">2</div>
<div style="position:absolute;left:4px;top:267.0px;width:75px;height:79px;display:flex;align-items:center;justify-content:center;text-align:center;font-weight:bold;line-height:20px;white-space:nowrap;">Nuclear<br>Family</div>
<div style="position:absolute;left:81px;top:267.0px;width:39px;height:79px;display:flex;align-items:center;justify-content:center;text-align:center;font-weight:bold;line-height:20px;white-space:nowrap;">4</div>
<div style="position:absolute;left:4px;top:348.0px;width:75px;height:79px;display:flex;align-items:center;justify-content:center;text-align:center;font-weight:bold;line-height:20px;white-space:nowrap;">Empty<br>Nesters</div>
<div style="position:absolute;left:81px;top:348.0px;width:39px;height:79px;display:flex;align-items:center;justify-content:center;text-align:center;font-weight:bold;line-height:20px;white-space:nowrap;">3</div>
<div style="position:absolute;left:4px;top:429.0px;width:75px;height:79px;display:flex;align-items:center;justify-content:center;text-align:center;font-weight:bold;line-height:20px;white-space:nowrap;">Pre-<br>Retirees</div>
<div style="position:absolute;left:81px;top:429.0px;width:39px;height:79px;display:flex;align-items:center;justify-content:center;text-align:center;font-weight:bold;line-height:20px;white-space:nowrap;">2</div>
<div style="position:absolute;left:122px;top:124.0px;width:55px;height:39px;display:flex;align-items:center;justify-content:center;text-align:center;line-height:20px;white-space:nowrap;">30</div>
<div style="position:absolute;left:122px;top:165.0px;width:55px;height:39px;display:flex;align-items:center;justify-content:center;text-align:center;line-height:20px;white-space:nowrap;">50</div>
<div style="position:absolute;left:122px;top:206.0px;width:55px;height:59px;display:flex;align-items:center;justify-content:center;text-align:center;line-height:20px;white-space:nowrap;">30, 8</div>
<div style="position:absolute;left:122px;top:267.0px;width:55px;height:79px;display:flex;align-items:center;justify-content:center;text-align:center;line-height:20px;white-space:nowrap;">40, 40,<br>15, 12</div>
<div style="position:absolute;left:122px;top:348.0px;width:55px;height:79px;display:flex;align-items:center;justify-content:center;text-align:center;line-height:20px;white-space:nowrap;">50, 50,<br>20</div>
<div style="position:absolute;left:122px;top:429.0px;width:55px;height:79px;display:flex;align-items:center;justify-content:center;text-align:center;line-height:20px;white-space:nowrap;">60, 60</div>
<div style="position:absolute;left:766px;top:124.0px;width:60px;height:39px;display:flex;align-items:center;justify-content:center;text-align:center;font-style:italic;line-height:20px;white-space:nowrap;">$307</div>
<div style="position:absolute;left:766px;top:165.0px;width:60px;height:39px;display:flex;align-items:center;justify-content:center;text-align:center;font-style:italic;line-height:20px;white-space:nowrap;">$483</div>
<div style="position:absolute;left:766px;top:206.0px;width:60px;height:59px;display:flex;align-items:center;justify-content:center;text-align:center;font-style:italic;line-height:20px;white-space:nowrap;">$514</div>
<div style="position:absolute;left:766px;top:267.0px;width:60px;height:79px;display:flex;align-items:center;justify-content:center;text-align:center;font-style:italic;line-height:20px;white-space:nowrap;">$1,124</div>
<div style="position:absolute;left:766px;top:348.0px;width:60px;height:79px;display:flex;align-items:center;justify-content:center;text-align:center;font-style:italic;line-height:20px;white-space:nowrap;">$1,229</div>
<div style="position:absolute;left:766px;top:429.0px;width:60px;height:79px;display:flex;align-items:center;justify-content:center;text-align:center;font-style:italic;line-height:20px;white-space:nowrap;">$1,468</div>
</body></html>
